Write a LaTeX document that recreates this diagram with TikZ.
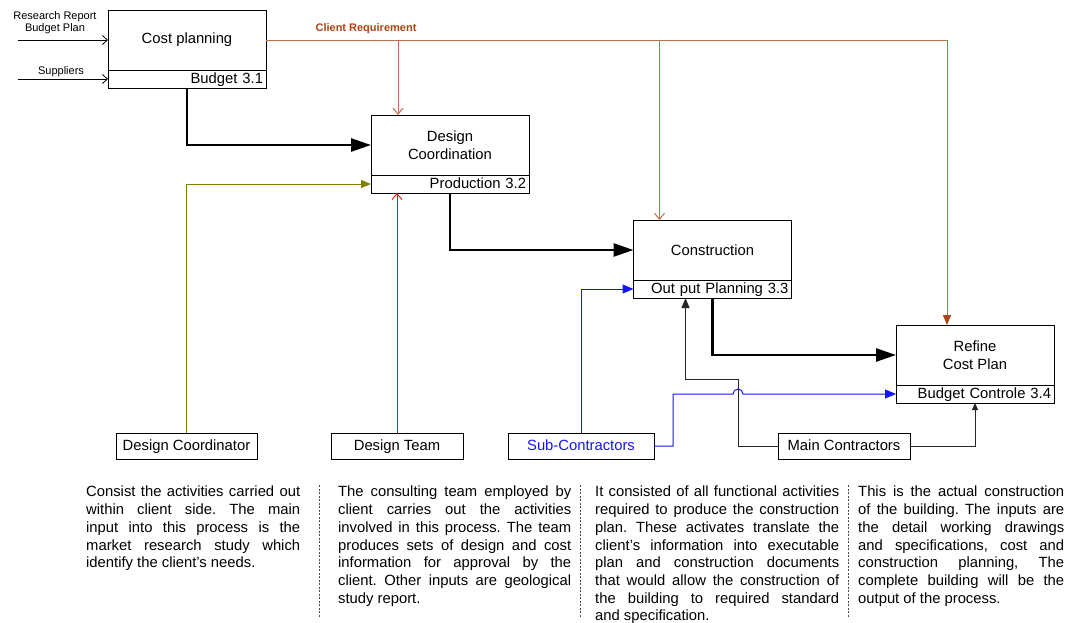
\documentclass[tikz,border=0pt]{standalone}
\usepackage{fontspec}
\setmainfont{Liberation Sans}
\usetikzlibrary{arrows.meta,calc,positioning}
\definecolor{reqbrown}{RGB}{170,70,20}
\definecolor{reqline}{RGB}{190,110,75}
\definecolor{coordolive}{RGB}{128,128,0}
\definecolor{subblue}{RGB}{20,20,255}
\frenchspacing

\begin{document}
\begin{tikzpicture}[x=1pt,y=1pt,
  font=\fontsize{14.8}{17.7}\selectfont,
  box/.style={draw,line width=1pt,outer sep=0pt,minimum width=158pt,minimum height=60pt,inner sep=0pt,align=center},
  boxtag/.style={draw,line width=1pt,outer sep=0pt,minimum height=18pt,text width=152pt,inner xsep=3pt,inner ysep=0pt,
    text height=12pt,text depth=2.5pt,align=right,below=0pt of #1},
  actor/.style={draw,line width=1pt,outer sep=0pt,minimum height=26pt,inner sep=0pt,text height=11pt,text depth=3pt},
  note/.style={anchor=north west,inner sep=0pt,align=justify},
  small/.style={font=\fontsize{11}{12}\selectfont,align=center},
  mainflow/.style={line width=2.5pt,-{Triangle[length=20pt,width=13pt]}},
  input/.style={line width=0.8pt,-{Straight Barb[length=5pt,width=9pt]}},
  req/.style={draw=reqline,line width=1pt},
  reqopen/.style={req,-{Straight Barb[length=6pt,width=10pt]}},
  coordline/.style={draw=coordolive,line width=1pt,-{Triangle[length=10pt,width=8pt]}},
  teamline/.style={draw=red,line width=0.8pt,-{Straight Barb[length=6pt,width=10pt]}},
  subline/.style={draw=subblue,line width=1pt,-{Triangle[length=11pt,width=9pt]}},
  mainline/.style={draw=black!85,line width=1pt,-{Triangle[length=10pt,width=8pt]}},
  sepline/.style={draw=black!70,line width=0.8pt,dash pattern=on 2pt off 1.5pt}
]
\useasboundingbox (0,0) rectangle (1071,-622);

% process boxes
\node[box] (cp) at (187,-40) {Cost planning};
\node[boxtag=cp] (cpbud) {Budget 3.1};
\node[box] (dc) at (450,-145) {Design\\Coordination};
\node[boxtag=dc] (dcprod) {Production 3.2};
\node[box] (con) at (712.5,-250) {Construction};
\node[boxtag=con] (conplan) {Out put Planning 3.3};
\node[box] (rf) at (975,-355) {Refine\\Cost Plan};
\node[boxtag=rf] (rfbud) {Budget Controle 3.4};

% people
\node[actor,minimum width=141pt] (dcr) at (186.5,-446) {Design Coordinator};
\node[actor,minimum width=132pt] (dt) at (397,-446) {Design Team};
\node[actor,minimum width=146pt,text=subblue] (sc) at (581,-446) {Sub-Contractors};
\node[actor,minimum width=132pt] (mc) at (844,-446) {Main Contractors};

% inputs on the left
\node[small] (rrlab) at (55,-23) {Research Report\\Budget Plan};
\node[small] (suplab) at (61,-72) {Suppliers};
\coordinate (rrin) at (18,-40);
\coordinate (supin) at (18,-79);
\draw[input] (rrin) -- (cp.west);
\draw[input] (supin) -- (cpbud.west);

% client requirement
\node[font=\fontsize{11}{12}\selectfont\bfseries,text=reqbrown] (reqlab) at (366,-29) {Client Requirement};
\coordinate (reqdc) at ($(dc.north west)+(27,0)$);
\coordinate (reqcon) at ($(con.north west)+(26,0)$);
\coordinate (reqrf) at ($(rf.north west)+(51,0)$);
\draw[req,-{Triangle[length=10pt,width=8pt,color=reqbrown]}] (cp.east) -| (reqrf);
\draw[reqopen] (reqdc |- cp.east) -- (reqdc);
\draw[reqopen] (reqcon |- cp.east) -- (reqcon);

% main flow
\draw[mainflow] (cpbud.south) |- (dc.west);
\draw[mainflow] (dcprod.south) |- (con.west);
\draw[mainflow] (conplan.south) |- (rf.west);

% resources
\draw[coordline] (dcr.north) |- (dcprod.west);
\draw[teamline] (dt.north) -- (dt.north |- dcprod.south);
\coordinate (hop) at ($(mc.west |- rfbud.west)+(-40,0)$);
\draw[mainline] (mc.west) -| ($(hop)+(0,15)$) -| ($(conplan.south west)+(52,0)$);
\draw[mainline,-{Triangle[length=7pt,width=6pt]}] (mc.east) -| (rfbud.south);
\draw[subline] (sc.north) |- (conplan.west);
\draw[subline] (sc.east) -- ++(19,0) |- ($(hop)+(-5,0)$) arc (180:0:5) -- (rfbud.west);

% notes
\node[note,text width=214pt] (t1) at (86,-486) {Consist the activities carried out\linebreak
within client side. The main\linebreak
input into this process is the\linebreak
market research study which\linebreak
identify the client’s needs.};
\node[note,text width=233pt] (t2) at (338,-486) {The consulting team employed by\linebreak
client carries out the activities\linebreak
involved in this process. The team\linebreak
produces sets of design and cost\linebreak
information for approval by the\linebreak
client. Other inputs are geological\linebreak
study report.};
\node[note,text width=244pt] (t3) at (595,-486) {It consisted of all functional activities\linebreak
required to produce the construction\linebreak
plan. These activates translate the\linebreak
client’s information into executable\linebreak
plan and construction documents\linebreak
that would allow the construction of\linebreak
the building to required standard\linebreak
and specification.};
\node[note,text width=206pt] (t4) at (858,-486) {This is the actual construction\linebreak
of the building. The inputs are\linebreak
the detail working drawings\linebreak
and specifications, cost and\linebreak
construction planning, The\linebreak
complete building will be the\linebreak
output of the process.};
\draw[sepline] (319,-485) -- (319,-617);
\draw[sepline] (580,-485) -- (580,-617);
\draw[sepline] (848,-485) -- (848,-617);
\end{tikzpicture}
\end{document}
